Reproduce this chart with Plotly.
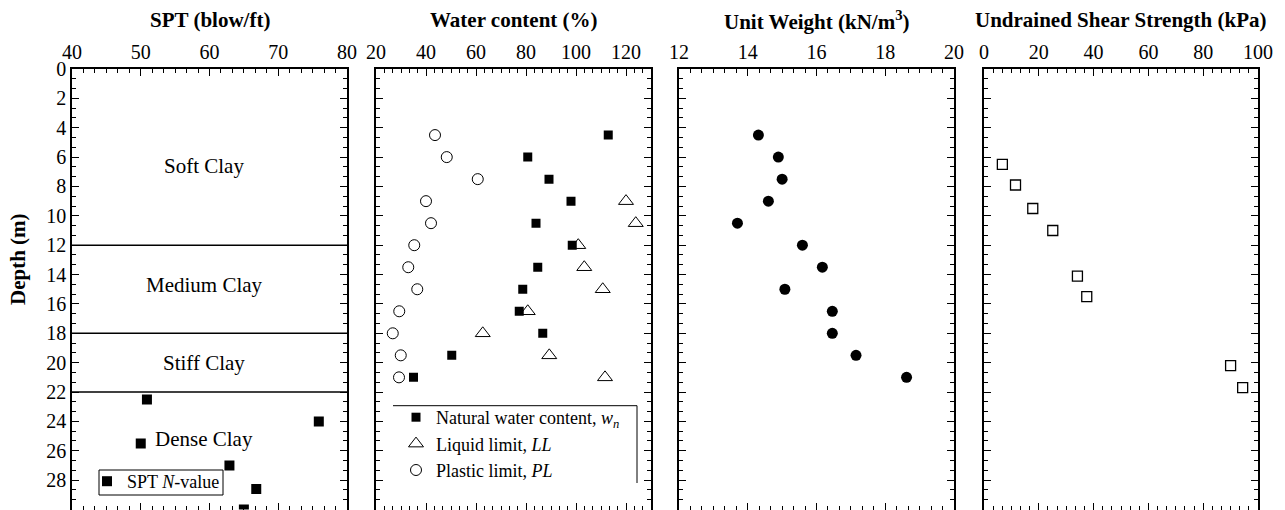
import plotly.graph_objects as go

# ---------------- data ----------------
spt_depth = [22.5, 24.0, 25.5, 27.0, 28.6, 30.0]
spt_n = [50.9, 75.9, 50.0, 62.9, 66.8, 65.0]

wc_depth = [4.5, 6.0, 7.5, 9.0, 10.5, 12.0, 13.5, 15.0, 16.5, 18.0, 19.5, 21.0]
wn = [112.9, 80.7, 89.2, 98.0, 84.0, 98.5, 84.7, 78.7, 77.3, 86.7, 50.3, 35.0]
pl = [43.6, 48.3, 60.7, 40.0, 42.0, 35.3, 32.9, 36.5, 29.3, 26.7, 29.9, 29.2]
ll_depth = [9.0, 10.5, 12.0, 13.5, 15.0, 16.5, 18.0, 19.5, 21.0]
ll = [120.0, 123.9, 100.9, 103.3, 110.7, 80.7, 62.7, 89.3, 111.6]

uw_depth = [4.5, 6.0, 7.5, 9.0, 10.5, 12.0, 13.5, 15.0, 16.5, 18.0, 19.5, 21.0]
uw = [14.31, 14.89, 15.0, 14.6, 13.7, 15.59, 16.17, 15.08, 16.46, 16.46, 17.15, 18.62]

su_depth = [6.5, 7.9, 9.5, 11.0, 14.1, 15.5, 20.2, 21.7]
su = [6.7, 11.5, 17.8, 25.1, 34.1, 37.5, 90.0, 94.4]

layer_boundaries = [12, 18, 22]
layer_names = ["Soft Clay", "Medium Clay", "Stiff Clay", "Dense Clay"]
layer_label_depths = [6.6, 14.7, 20.0, 25.2]

panel_titles = ["SPT (blow/ft)", "Water content (%)", "Unit Weight (kN/m<sup>3</sup>)",
                "Undrained Shear Strength (kPa)"]
x_ranges = [[40, 80], [20, 130], [12, 20], [0, 100]]
x_dticks = [10, 20, 2, 20]
x_tick0 = [40, 20, 12, 0]
depth_range = [30, 0]

FONT = "Liberation Serif"
W, H = 1285, 510

def px_x(p):
    return p / W

def px_y(p):
    return 1 - p / H

domains = [[72, 347], [376, 651], [679, 954], [984, 1258]]
ydom = [px_y(509.5), px_y(69)]

fig = go.Figure()

fig.add_trace(go.Scatter(x=spt_n, y=spt_depth, mode="markers", name="SPT <i>N</i>-value",
                         marker=dict(symbol="square", size=10, color="black"),
                         xaxis="x", yaxis="y", legend="legend"))

fig.add_trace(go.Scatter(x=wn, y=wc_depth, mode="markers",
                         name="Natural water content, <i>w<sub>n</sub></i>",
                         marker=dict(symbol="square", size=9, color="black"),
                         xaxis="x2", yaxis="y2", legend="legend2"))
fig.add_trace(go.Scatter(x=ll, y=ll_depth, mode="markers", name="Liquid limit, <i>LL</i>",
                         marker=dict(symbol="triangle-up-open", size=13, color="black",
                                     line=dict(width=1)),
                         xaxis="x2", yaxis="y2", legend="legend2"))
fig.add_trace(go.Scatter(x=pl, y=wc_depth, mode="markers", name="Plastic limit, <i>PL</i>",
                         marker=dict(symbol="circle-open", size=11, color="black",
                                     line=dict(width=1)),
                         xaxis="x2", yaxis="y2", legend="legend2"))

fig.add_trace(go.Scatter(x=uw, y=uw_depth, mode="markers", showlegend=False,
                         marker=dict(symbol="circle", size=11, color="black"),
                         xaxis="x3", yaxis="y3"))

fig.add_trace(go.Scatter(x=su, y=su_depth, mode="markers", showlegend=False,
                         marker=dict(symbol="square-open", size=10, color="black",
                                     line=dict(width=1.3)),
                         xaxis="x4", yaxis="y4"))

axis_font = dict(family=FONT, size=20, color="black")
layout = dict(
    width=W, height=H,
    margin=dict(l=0, r=0, t=0, b=0),
    plot_bgcolor="white", paper_bgcolor="white",
    font=dict(family=FONT, size=20, color="black"),
)

for i in range(4):
    sx = "" if i == 0 else str(i + 1)
    layout["xaxis" + sx] = dict(
        domain=[px_x(domains[i][0]), px_x(domains[i][1])],
        range=x_ranges[i], side="top", anchor="y" + sx,
        tick0=x_tick0[i], dtick=x_dticks[i],
        ticks="inside", ticklen=7, tickwidth=1.3, tickcolor="black",
        minor=dict(dtick=x_dticks[i] / 6, ticks="inside", ticklen=4, tickwidth=1,
                   tickcolor="black"),
        showline=True, linecolor="black", linewidth=1.6, mirror="ticks",
        showgrid=False, zeroline=False, tickfont=axis_font, automargin=False,
    )
    layout["yaxis" + sx] = dict(
        domain=ydom, range=depth_range, anchor="x" + sx,
        tick0=0, dtick=2,
        ticks="inside", ticklen=7, tickwidth=1.3, tickcolor="black",
        minor=dict(dtick=2 / 3, ticks="inside", ticklen=4, tickwidth=1, tickcolor="black"),
        showline=True, linecolor="black", linewidth=1.6, mirror="ticks",
        showgrid=False, zeroline=False, tickfont=axis_font, automargin=False,
        showticklabels=(i == 0),
    )

layout["legend"] = dict(
    x=px_x(87), y=px_y(463), xanchor="left", yanchor="top",
    borderwidth=0, bgcolor="rgba(0,0,0,0)",
    font=dict(family=FONT, size=18, color="black"),
    itemwidth=30, tracegroupgap=0,
)
layout["legend2"] = dict(
    x=px_x(396), y=px_y(399), xanchor="left", yanchor="top",
    borderwidth=0, bgcolor="rgba(0,0,0,0)",
    font=dict(family=FONT, size=18, color="black"),
    itemwidth=30, tracegroupgap=0,
)

fig.update_layout(**layout)

# layer boundaries in SPT panel
for d in layer_boundaries:
    fig.add_shape(type="line", xref="x domain", yref="y", x0=0, x1=1, y0=d, y1=d,
                  line=dict(color="black", width=1.5))

for name, d in zip(layer_names, layer_label_depths):
    fig.add_annotation(text=name, xref="x domain", yref="y", x=0.48, y=d, xanchor="center",
                       showarrow=False, font=dict(family=FONT, size=21, color="black"))

# frame of SPT legend
fig.add_shape(type="rect", xref="paper", yref="paper", x0=px_x(99), x1=px_x(223),
              y0=px_y(495), y1=px_y(470), line=dict(color="black", width=1),
              fillcolor="rgba(0,0,0,0)", layer="below")

# partial frame around water content legend
fig.add_shape(type="line", xref="paper", yref="paper", x0=px_x(393), x1=px_x(637),
              y0=px_y(405.7), y1=px_y(405.7), line=dict(color="black", width=1))
fig.add_shape(type="line", xref="paper", yref="paper", x0=px_x(637), x1=px_x(637),
              y0=px_y(405.7), y1=px_y(483), line=dict(color="black", width=1))

# panel titles
for i, t in enumerate(panel_titles):
    sx = "" if i == 0 else str(i + 1)
    fig.add_annotation(text="<b>" + t + "</b>", xref="x" + sx + " domain", yref="paper",
                       x=0.5, y=px_y(20.5), xanchor="center", yanchor="middle",
                       showarrow=False, font=dict(family=FONT, size=21, color="black"))

fig.add_annotation(text="<b>Depth (m)</b>", xref="paper", yref="paper",
                   x=px_x(18), y=px_y(259), xanchor="center", yanchor="middle",
                   textangle=-90, showarrow=False,
                   font=dict(family=FONT, size=21, color="black"))

fig.write_html("out.html", config={"displayModeBar": False},
               post_script="document.body.style.margin='0';")
